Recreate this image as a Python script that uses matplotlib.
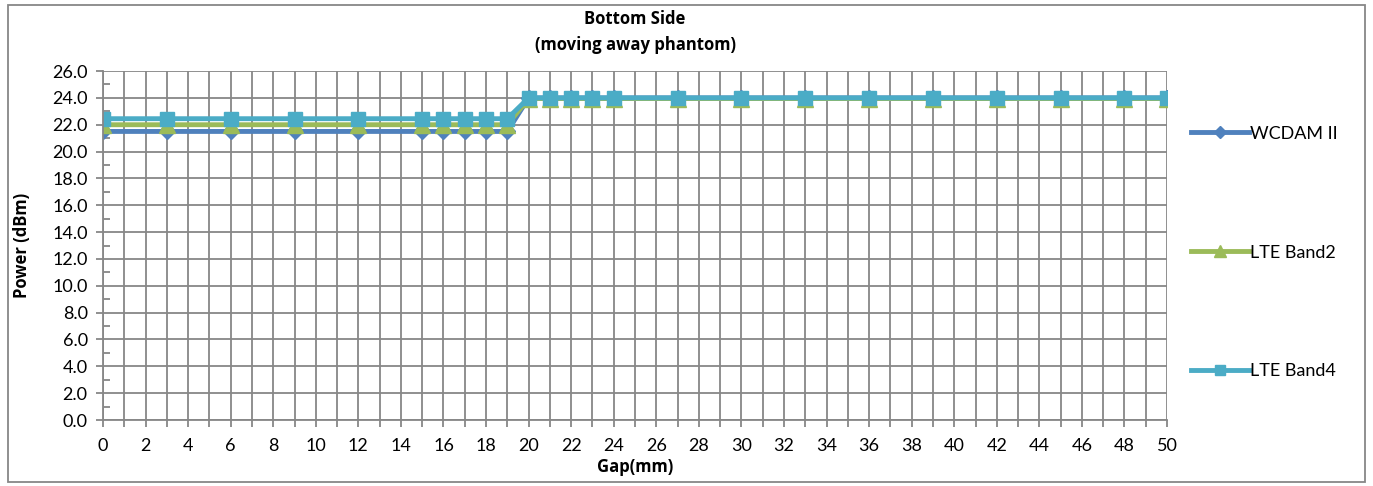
import matplotlib.pyplot as plt
from matplotlib.patches import Rectangle
from matplotlib.ticker import MultipleLocator

gap = [0, 3, 6, 9, 12, 15, 16, 17, 18, 19, 20, 21, 22, 23, 24, 27, 30, 33, 36, 39, 42, 45, 48, 50]
wcdma = [21.5] * 10 + [24.0] * 14
lte_b2 = [22.0] * 10 + [23.95] * 14
lte_b4 = [22.45] * 10 + [24.0] * 14

plt.rcParams['font.family'] = ['Lato', 'DejaVu Sans']
bold = dict(family=['Open Sans', 'DejaVu Sans'], fontweight='bold', fontsize=12)

fig = plt.figure(figsize=(13.73, 4.86), dpi=100)
ax = fig.add_axes([0.075, 0.1358, 0.775, 0.718])

ax.plot(gap, wcdma, color='#4F81BD', lw=3.5, marker='D', ms=8, label='WCDAM II')
ax.plot(gap, lte_b2, color='#9BBB59', lw=3.5, marker='^', ms=11, label='LTE Band2')
ax.plot(gap, lte_b4, color='#4BACC6', lw=3.5, marker='s', ms=10, label='LTE Band4')

ax.set_xlim(0, 50)
ax.set_ylim(0, 26)
ax.xaxis.set_major_locator(MultipleLocator(2))
ax.xaxis.set_minor_locator(MultipleLocator(1))
ax.yaxis.set_major_locator(MultipleLocator(2))
ax.yaxis.set_minor_locator(MultipleLocator(1))
ax.yaxis.set_major_formatter(lambda v, p: f'{v:.1f}')

ax.grid(which='major', axis='y', color='#878787', lw=1.3)
ax.grid(which='both', axis='x', color='#878787', lw=1.3)
ax.set_axisbelow(True)
for s in ax.spines.values():
    s.set_visible(False)
ax.spines['left'].set_visible(True)
ax.spines['bottom'].set_visible(True)
ax.spines['left'].set_color('#878787')
ax.spines['bottom'].set_color('#878787')
ax.spines['left'].set_linewidth(1.3)
ax.spines['bottom'].set_linewidth(1.3)

ax.tick_params(which='major', axis='both', length=5, color='#878787', width=1.3, labelsize=13)
ax.tick_params(which='minor', axis='x', length=5, color='#878787', width=1.3)
ax.tick_params(which='minor', axis='y', direction='in', length=5, color='#878787', width=1.3)
ax.tick_params(axis='x', pad=8)
ax.tick_params(axis='y', pad=6)

ax.set_xlabel('Gap(mm)', labelpad=3, **bold)
ax.set_ylabel('Power (dBm)', labelpad=15, **bold)
ax.set_title('Bottom Side\n(moving away phantom)', pad=15, linespacing=1.6, **bold)

ax.legend(loc='center left', bbox_to_anchor=(1.007, 0.48), frameon=False, fontsize=13,
          labelspacing=5.7, handlelength=3.2, handletextpad=0.1, markerscale=0.75)

fig.add_artist(Rectangle((0.006, 0.008), 0.988, 0.982, transform=fig.transFigure,
                         fill=False, edgecolor='#878787', lw=1.3))

fig.savefig('out.png', dpi=100)
